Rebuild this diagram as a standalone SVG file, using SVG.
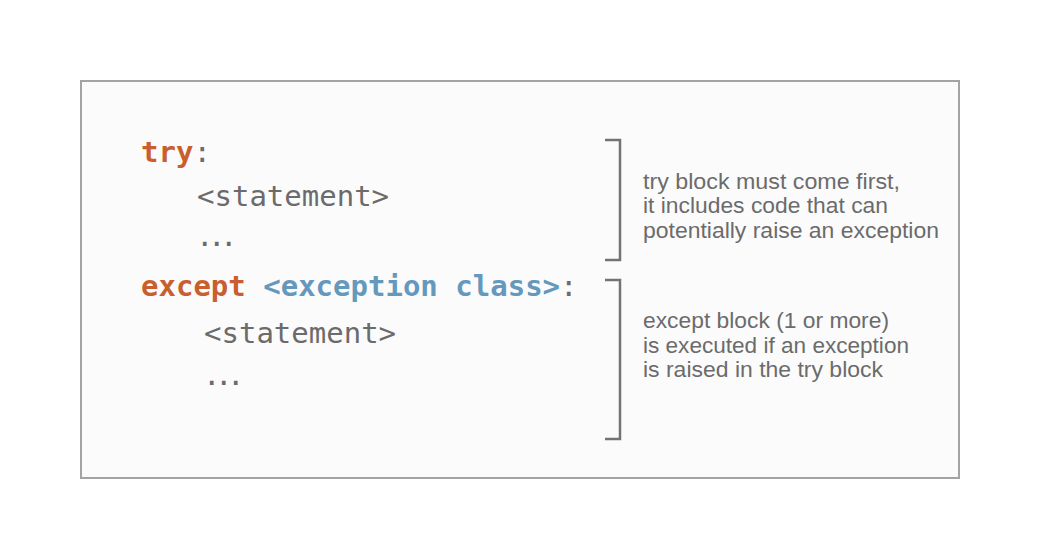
<svg xmlns="http://www.w3.org/2000/svg" width="1037" height="560" viewBox="0 0 1037 560">
<style>
.code{font-family:"DejaVu Sans Mono","Liberation Mono",monospace;font-size:29px;fill:#6b6b6b}
.dots{letter-spacing:-5.4px}
.kw{fill:#c95f2e;font-weight:bold}
.cls{fill:#6598bd;font-weight:bold}
.note{font-family:"Liberation Sans","Noto Sans",sans-serif;font-size:22.5px;fill:#6b6b6b}
.br{fill:none;stroke:#737373;stroke-width:2.5}
</style>
<rect width="1037" height="560" fill="#ffffff"/>
<g id="panel">
<rect x="81" y="81" width="878" height="397" fill="#fbfbfb" stroke="#a3a3a3" stroke-width="2"/>
</g>
<g id="code">
<text class="code" x="141" y="162"><tspan class="kw">try</tspan>:</text>
<text class="code" x="197" y="206">&lt;statement&gt;</text>
<text class="code dots" x="196" y="246">...</text>
<text class="code" x="141" y="296"><tspan class="kw">except</tspan> <tspan class="cls">&lt;exception class&gt;</tspan>:</text>
<text class="code" x="204" y="343">&lt;statement&gt;</text>
<text class="code dots" x="203" y="385">...</text>
</g>
<g id="connectors">
<path class="br" d="M605 140 H620 V260 H605"/>
<path class="br" d="M605 280 H620 V439 H605"/>
</g>
<g id="note-try">
<text class="note" x="643" y="189" textLength="257" lengthAdjust="spacingAndGlyphs">try block must come first,</text>
<text class="note" x="643" y="213" textLength="245" lengthAdjust="spacingAndGlyphs">it includes code that can</text>
<text class="note" x="643" y="238" textLength="296" lengthAdjust="spacingAndGlyphs">potentially raise an exception</text>
</g>
<g id="note-except">
<text class="note" x="643" y="328" textLength="246" lengthAdjust="spacingAndGlyphs">except block (1 or more)</text>
<text class="note" x="643" y="353" textLength="266" lengthAdjust="spacingAndGlyphs">is executed if an exception</text>
<text class="note" x="643" y="377" textLength="240" lengthAdjust="spacingAndGlyphs">is raised in the try block</text>
</g>
</svg>
